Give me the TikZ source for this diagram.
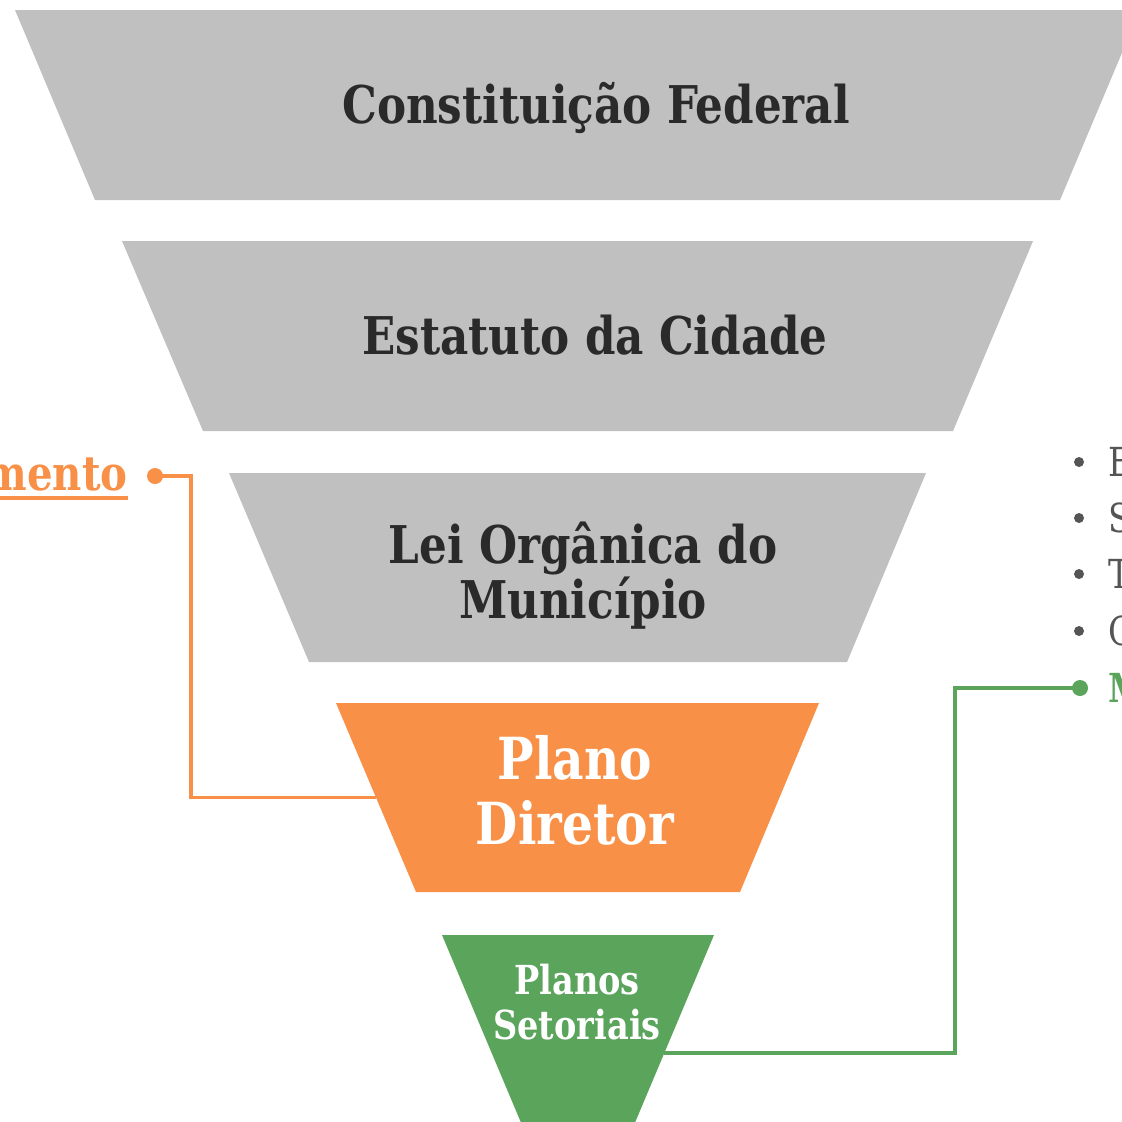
\documentclass[tikz,border=0pt]{standalone}
\usepackage{fontspec}
\usetikzlibrary{calc}
\setmainfont{DejaVu Serif}
\newfontfamily\slab[FakeStretch=0.84]{DejaVu Serif}
\definecolor{cinza}{HTML}{C0C0C0}
\definecolor{laranja}{HTML}{F99047}
\definecolor{verde}{HTML}{5AA45C}
\definecolor{texto}{HTML}{2A2A2A}
\definecolor{lista}{HTML}{555555}

\begin{document}
\begin{tikzpicture}[x=0.5pt, y=-0.5pt,
    nivel/.style={font=\slab\bfseries\fontsize{26}{27.5}\selectfont, text=texto, align=center, inner sep=0pt},
    ponto/.style={circle, inner sep=0pt, minimum size=8pt},
    marca/.style={circle, fill=lista, inner sep=0pt, minimum size=5pt},
    item/.style={font=\slab\fontsize{20}{22}\selectfont, text=lista, anchor=base west, inner sep=0pt},
    ligacao/.style={line width=1.8pt}]
    \useasboundingbox (0,0) rectangle (1122,1121);
    \clip (0,0) rectangle (1122,1121);

    % funil
    \fill[cinza] (15,10) -- (1140,10) -- (1060,200) -- (95,200) -- cycle;
    \fill[cinza] (122,241) -- (1033,241) -- (953,431) -- (203,431) -- cycle;
    \fill[cinza] (229,473) -- (926,473) -- (847,662) -- (309,662) -- cycle;
    \fill[laranja] (336,703) -- (819,703) -- (740,892) -- (416,892) -- cycle;
    \fill[verde] (442,935) -- (714,935) -- (634,1125) -- (522,1125) -- cycle;
    \coordinate (pd) at ($(336,703)!0.5!(416,892)$);
    \coordinate (ps) at (664,1053);

    \node[nivel, anchor=base] (cf) at (596,123) {Constituição Federal};
    \node[nivel, anchor=base] (ec) at (595,354) {Estatuto da Cidade};
    \node[nivel] (lom) at (583,576) {Lei Orgânica do\\Município};
    \node[nivel, text=white, font=\slab\bfseries\fontsize{29}{32.5}\selectfont] (pdir) at (575,790) {Plano\\Diretor};
    \node[nivel, text=white, font=\slab\bfseries\fontsize{20}{22.5}\selectfont] (pset) at (577,1002) {Planos\\Setoriais};

    % lado esquerdo
    \node[nivel, text=laranja, font=\slab\bfseries\fontsize{24}{26}\selectfont, anchor=base east] (mento) at (128,490) {mento};
    \draw[laranja, ligacao] ([yshift=-4pt]mento.base west) -- ([yshift=-4pt]mento.base east);
    \node[ponto, fill=laranja] (od) at (155,476) {};
    \draw[laranja, ligacao] (od.center) -- (191,476) |- (pd);

    % lado direito
    \node[marca] (m1) at (1079,462) {};
    \node[marca] (m2) at (1079,518) {};
    \node[marca] (m3) at (1079,574) {};
    \node[marca] (m4) at (1079,631) {};
    \node[item] (e) at (1108,476.5) {E};
    \node[item] (s) at (1108,532.5) {S};
    \node[item] (t) at (1108,588.5) {T};
    \node[item] (c) at (1108,645.5) {C};
    \node[ponto, fill=verde] (vd) at (1080,688) {};
    \node[item, text=verde, font=\slab\bfseries\fontsize{20}{22}\selectfont] (m) at (1108,702.5) {M};
    \draw[verde, ligacao] (ps) -- (955,1053) |- (vd.center);
\end{tikzpicture}
\end{document}
